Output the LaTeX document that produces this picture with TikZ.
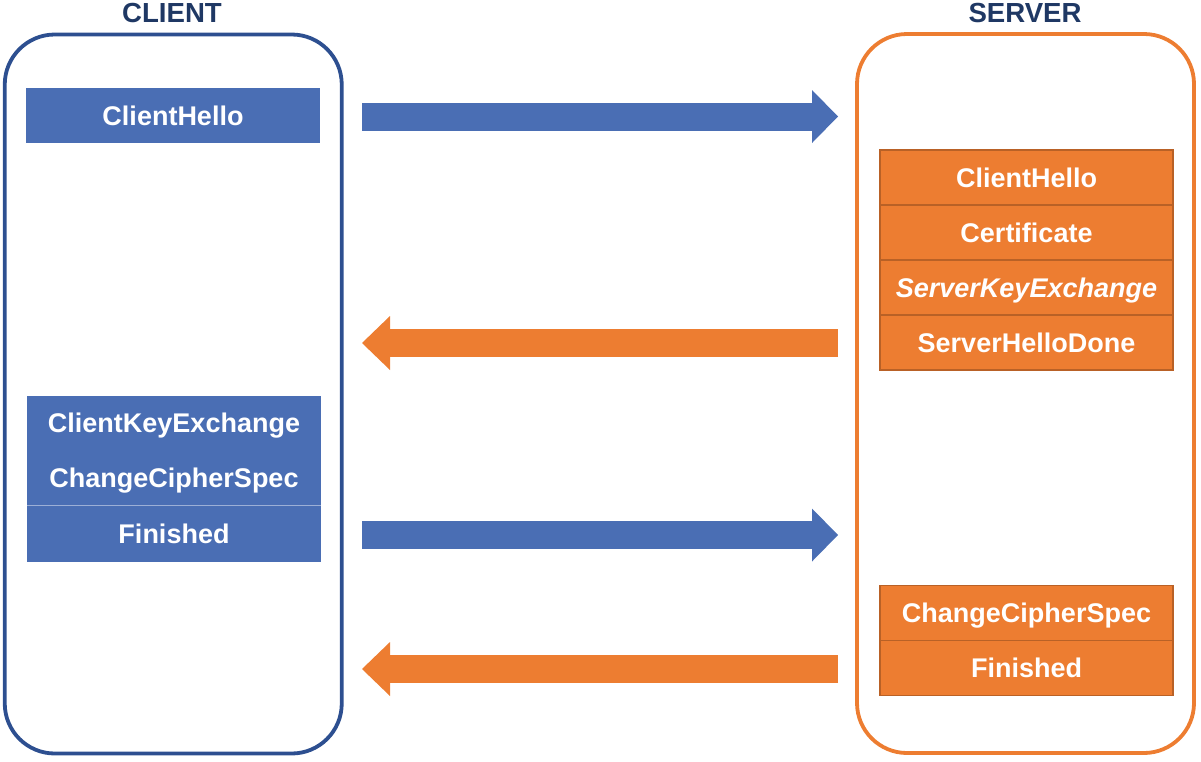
\documentclass[tikz,border=0pt]{standalone}
\usepackage{fontspec}
\setmainfont{Liberation Sans}
\usepackage{tikz}
\usetikzlibrary{arrows.meta}
\usetikzlibrary{positioning}
\definecolor{msgblue}{HTML}{4A6EB4}
\definecolor{msgorange}{HTML}{ED7D31}
\definecolor{sideblue}{HTML}{2D4F90}
\definecolor{titlenavy}{HTML}{1F3864}

\begin{document}
\begin{tikzpicture}[x=1pt,y=-1pt,every node/.style={inner sep=0pt,outer sep=0pt,font=\bfseries\fontsize{27}{33}\selectfont},side/.style={draw,line width=3.8pt,rounded corners=50pt,minimum width=337pt,minimum height=719pt},cmsg/.style={fill=msgblue,text=white,minimum width=294pt,minimum height=55pt,text height=19.3pt,text depth=0pt},smsg/.style={fill=msgorange,draw=msgorange!78!black,line width=1.2pt,text=white,minimum width=293pt,minimum height=55pt,text height=19.3pt,text depth=0pt},title/.style={text=titlenavy,font=\bfseries\fontsize{27.6}{32}\selectfont,text height=19.7pt,text depth=0pt},toserver/.style={draw=msgblue,line width=28pt,-{Triangle[length=26pt,width=53pt,line width=0pt]}},toclient/.style={draw=msgorange,line width=28pt,-{Triangle[length=28pt,width=54pt,line width=0pt]}}]
	
	\useasboundingbox (0,0) rectangle (1201,761);
	
	% the two sides
	\node[side,draw=sideblue] (client) at (173.25,394) {};
	\node[side,draw=msgorange] (server) at (1025.5,393.5) {};
	\node[title] (clienttitle) at (172,12.5) {CLIENT};
	\node[title] (servertitle) at (1025,12.5) {SERVER};
	
	% client messages
	\node[cmsg] (chello) at (173,115.5) {ClientHello};
	\node[cmsg] (ckx) at (174,423) {ClientKeyExchange};
	\node[cmsg,below=0pt of ckx] (ccs) {ChangeCipherSpec};
	\node[cmsg,below=0pt of ccs,minimum height=56pt] (cfin) {Finished};
	\draw[msgblue!55!white,line width=1pt] (ccs.south west) -- (ccs.south east);
	
	% server messages
	\node[smsg] (shello) at (1026.5,177.5) {ClientHello};
	\node[smsg,below=0pt of shello] (scert) {Certificate};
	\node[smsg,below=0pt of scert,font=\bfseries\itshape\fontsize{27}{33}\selectfont] (sske) {ServerKeyExchange};
	\node[smsg,below=0pt of sske] (sdone) {ServerHelloDone};
	\node[smsg] (sccs) at (1026.5,613) {ChangeCipherSpec};
	\node[smsg,below=0pt of sccs] (sfin) {Finished};
	
	% flights
	\coordinate (out1) at (362,116.5);
	\coordinate (in1) at (838,116.5);
	\coordinate (out2) at (838,343);
	\coordinate (in2) at (362,343);
	\coordinate (out3) at (362,535);
	\coordinate (in3) at (838,535);
	\coordinate (out4) at (838,669);
	\coordinate (in4) at (362,669);
	\draw[toserver] (out1) -- (in1);
	\draw[toclient] (out2) -- (in2);
	\draw[toserver] (out3) -- (in3);
	\draw[toclient] (out4) -- (in4);
	
\end{tikzpicture}
\end{document}
